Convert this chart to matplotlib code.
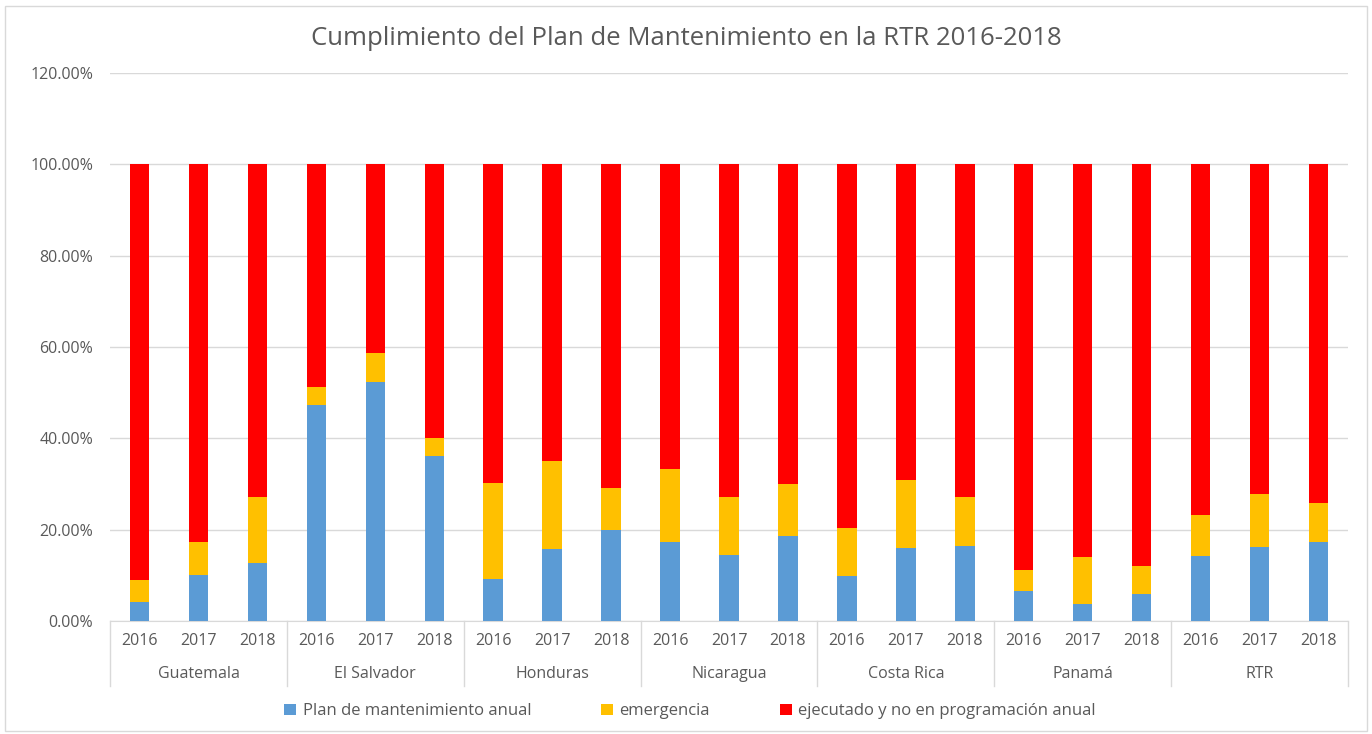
"""
Stacked 100% bars: cumplimiento del plan de mantenimiento en la RTR 2016-2018.
"""

import matplotlib
matplotlib.use("Agg")
import matplotlib.pyplot as plt
from matplotlib.patches import Rectangle
from matplotlib.ticker import FuncFormatter, MultipleLocator
import numpy as np

countries = ["Guatemala", "El Salvador", "Honduras", "Nicaragua",
             "Costa Rica", "Panamá", "RTR"]
years = ["2016", "2017", "2018"]

# percent of total, one value per (country, year)
plan_anual = [4.2, 10.1, 12.6, 47.3, 52.4, 36.1, 9.2, 15.8, 19.9, 17.2, 14.5,
              18.6, 9.9, 15.9, 16.4, 6.5, 3.8, 6.0, 14.2, 16.2, 17.2]
emergencia = [4.8, 7.1, 14.6, 3.9, 6.2, 3.9, 21.1, 19.2, 9.2, 16.0, 12.7,
              11.5, 10.4, 14.9, 10.8, 4.7, 10.2, 6.0, 9.1, 11.7, 8.7]
ejecutado_no_prog = [91.0, 82.8, 72.8, 48.8, 41.4, 60.0, 69.7, 65.0, 70.9,
                     66.8, 72.8, 69.9, 79.7, 69.2, 72.8, 88.8, 86.0, 88.0,
                     76.7, 72.1, 74.1]

series_labels = ["Plan de mantenimiento anual", "emergencia",
                 "ejecutado y no en programación anual"]
colors = ["#5B9BD5", "#FFC000", "#FF0000"]
TXT = "#595959"
GRID = "#D9D9D9"

plt.rcParams["font.family"] = ["Open Sans", "DejaVu Sans"]

fig = plt.figure(figsize=(13.72, 7.34), dpi=100)
ax = fig.add_axes([0.0802, 0.154, 0.9023, 0.7465])

x = np.arange(len(plan_anual))
bottom = np.zeros(len(x))
handles = []
for vals, lab, col in zip([plan_anual, emergencia, ejecutado_no_prog],
                          series_labels, colors):
    b = ax.bar(x, vals, width=0.33, bottom=bottom, color=col, label=lab,
               zorder=3)
    handles.append(b)
    bottom += np.array(vals)

ax.set_xlim(-0.5, len(x) - 0.5)
ax.set_ylim(0, 120)
ax.yaxis.set_major_locator(MultipleLocator(20))
ax.yaxis.set_major_formatter(FuncFormatter(lambda v, _: f"{v:.2f}%"))
ax.grid(axis="y", color=GRID, linewidth=1, zorder=0)
for s in ["top", "right", "left"]:
    ax.spines[s].set_visible(False)
ax.spines["bottom"].set_color(GRID)

ax.set_xticks(x)
ax.set_xticklabels(years * len(countries))
ax.tick_params(axis="x", length=0, pad=9, labelsize=11.5, labelcolor=TXT)
ax.tick_params(axis="y", length=0, pad=12, labelsize=11.5, labelcolor=TXT)

# group separators and country labels under the year labels
trans = ax.get_xaxis_transform()
for g in range(len(countries) + 1):
    xs = g * 3 - 0.5
    ax.plot([xs, xs], [0, -0.119], transform=trans, color=GRID,
            linewidth=1, clip_on=False)
for g, name in enumerate(countries):
    ax.text(g * 3 + 1, -0.097, name, transform=trans, ha="center",
            va="center", fontsize=11.5, color=TXT)

fig.text(0.5, 0.948, "Cumplimiento del Plan de Mantenimiento en la RTR 2016-2018",
         ha="center", va="center", fontsize=18.5, color=TXT)

fig.legend(handles=handles, labels=series_labels, loc="center",
           bbox_to_anchor=(0.503, 0.031), ncol=3, frameon=False,
           fontsize=12, labelcolor=TXT, handlelength=0.7, handleheight=0.7,
           handletextpad=0.4, columnspacing=4.2)

# light chart-area border
fig.patches.append(Rectangle((0.004, 0.004), 0.992, 0.988,
                             transform=fig.transFigure, fill=False,
                             edgecolor=GRID, linewidth=1))

fig.savefig("out.png", dpi=100)
